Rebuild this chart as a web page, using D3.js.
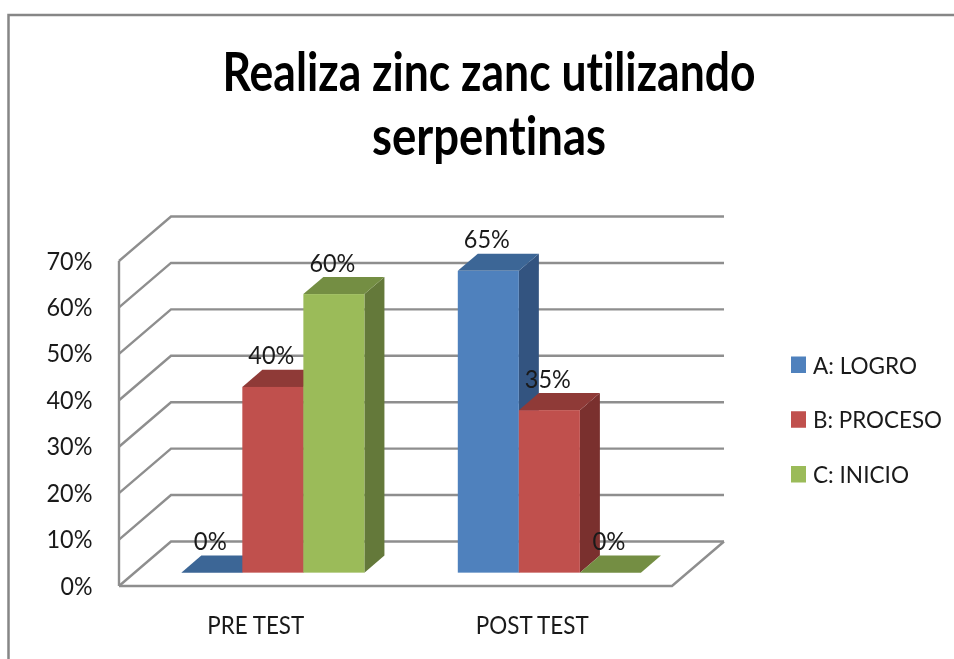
<!DOCTYPE html>
<html><head><meta charset="utf-8">
<script src="https://cdn.jsdelivr.net/npm/d3@7"></script>
<style>
html,body{margin:0;padding:0;background:#fff;overflow:hidden}
svg{display:block;filter:blur(0.35px)}
text{font-family:Lato,"Open Sans",sans-serif;fill:#1a1a1a;font-variant-ligatures:none}
</style></head><body>
<svg id="c" width="954" height="659"></svg>
<script>
const titleLines = ["Realiza zinc zanc utilizando", "serpentinas"];
const categories = ["PRE TEST", "POST TEST"];
const seriesNames = ["A: LOGRO", "B: PROCESO", "C: INICIO"];
const seriesA = [0, 65];
const seriesB = [40, 35];
const seriesC = [60, 0];
const yTicks = [0, 10, 20, 30, 40, 50, 60, 70];
const frontColors = ["#4f81bd", "#c0504d", "#9bbb59"];
const topColors = ["#3c6696", "#8f3a37", "#748e43"];
const sideColors = ["#335480", "#7a302e", "#64793a"];

const svg = d3.select("#c");
const seriesValues = [seriesA, seriesB, seriesC];

// frame
svg.append("path").attr("d", "M8.5,659V15H954").attr("fill", "none").attr("stroke", "#868686").attr("stroke-width", 2.5);

// title
svg.selectAll(".title").data(titleLines).join("text")
  .attr("x", 489).attr("y", (d, i) => 90.5 + i * 64)
  .attr("text-anchor", "middle").attr("font-size", 54).attr("font-weight", 700)
  .attr("textLength", (d, i) => i === 0 ? 533 : 234).attr("lengthAdjust", "spacingAndGlyphs")
  .style("fill", "#000").text(d => d);

// scales
const y = d3.scaleLinear().domain([0, 70]).range([586, 261]);
const x0 = d3.scaleBand().domain(categories).range([119, 672]);
const x1 = d3.scaleBand().domain(seriesNames).range([0, x0.bandwidth()]).paddingInner(0).paddingOuter(0.765);
const wallDx = 52, wallDy = -44.5;     // full depth of the floor
const barInset = 0.3;                  // bar front sits 30% into the depth
const barDepth = 0.385;                // bar depth as share of floor depth

// gridlines
const grid = svg.append("g").attr("fill", "none").attr("stroke", "#8e8e8e").attr("stroke-width", 2.4);
yTicks.forEach(t => {
  const yy = y(t);
  const pts = [[x0.range()[0], yy], [x0.range()[0] + wallDx, yy + wallDy], [x0.range()[1] + wallDx, yy + wallDy]];
  grid.append("path").attr("d", d3.line()(pts));
});
const floorPts = [[x0.range()[0], y(0)], [x0.range()[1], y(0)], [x0.range()[1] + wallDx, y(0) + wallDy]];
grid.append("path").attr("d", d3.line()(floorPts));
grid.append("path").attr("d", d3.line()([[x0.range()[0], y(0)], [x0.range()[0], y(70)]]));

// y axis labels
const yAxis = d3.axisLeft(y).tickValues(yTicks).tickSize(0).tickPadding(0).tickFormat(d => d + "%");
const ax = svg.append("g").attr("transform", "translate(92.5,-1)").call(yAxis);
ax.select(".domain").remove();
ax.selectAll("text").attr("font-size", 25).attr("font-family", "Lato").attr("dy", "0.36em")
  .attr("textLength", d => d === 0 ? 32 : 46).attr("lengthAdjust", "spacingAndGlyphs").style("fill", "#1a1a1a");

// bars
const insetX = wallDx * barInset, insetY = wallDy * barInset;
const dX = wallDx * barDepth, dY = wallDy * barDepth;
const poly = p => d3.line()(p) + "Z";
categories.forEach((cat, ci) => {
  seriesNames.forEach((s, si) => {
    const v = seriesValues[si][ci];
    const xl = x0(cat) + x1(s) + insetX, xr = xl + x1.bandwidth();
    const yb = y(0) + insetY, yt = y(v) + insetY;
    const g = svg.append("g");
    g.append("path").attr("d", poly([[xr, yb], [xr + dX, yb + dY], [xr + dX, yt + dY], [xr, yt]])).attr("fill", sideColors[si]);
    g.append("path").attr("d", poly([[xl, yt], [xl + dX, yt + dY], [xr + dX, yt + dY], [xr, yt]])).attr("fill", topColors[si]);
    g.append("rect").attr("x", xl).attr("y", yt).attr("width", x1.bandwidth()).attr("height", yb - yt).attr("fill", frontColors[si]);
  });
});

// data labels (on top of all bars)
categories.forEach((cat, ci) => {
  seriesNames.forEach((s, si) => {
    const v = seriesValues[si][ci];
    svg.append("text")
      .attr("x", x0(cat) + x1(s) + insetX + x1.bandwidth() / 2 - 1.5)
      .attr("y", y(v) + insetY - 22.5)
      .attr("text-anchor", "middle").attr("font-size", 25)
      .attr("textLength", v === 0 ? 33 : 46).attr("lengthAdjust", "spacingAndGlyphs").text(v + "%");
  });
});

// category labels
svg.selectAll(".cat").data(categories).join("text")
  .attr("x", d => x0(d) + x0.bandwidth() / 2 - 1.5).attr("y", 633.5)
  .attr("text-anchor", "middle").attr("font-size", 25)
  .attr("textLength", (d, i) => i === 0 ? 97 : 113).attr("lengthAdjust", "spacingAndGlyphs").text(d => d);

// legend
const legendY = d3.scalePoint().domain(seriesNames).range([365, 474.5]);
seriesNames.forEach((s, i) => {
  svg.append("rect").attr("x", 791).attr("y", legendY(s) - 8.5).attr("width", 15).attr("height", 16.5).attr("fill", frontColors[i]);
  svg.append("text").attr("x", 813).attr("y", legendY(s) + 8.5).attr("font-size", 23.5)
    .attr("textLength", [104, 129, 96][i]).attr("lengthAdjust", "spacingAndGlyphs").text(s);
});
</script></body></html>
